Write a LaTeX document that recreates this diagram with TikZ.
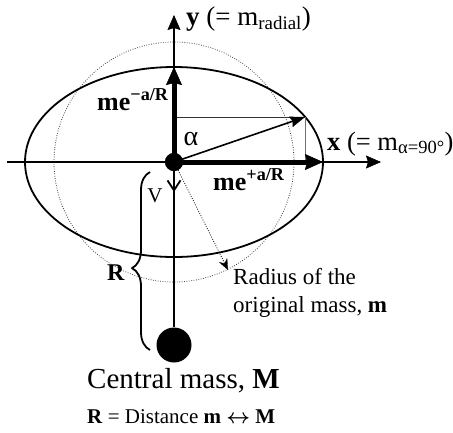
\documentclass[tikz,border=0pt]{standalone}
\usepackage{fontspec}
\setmainfont{Liberation Serif}
\usepackage{tikz}
\usetikzlibrary{arrows.meta,positioning,decorations.pathreplacing}

\begin{document}
\begin{tikzpicture}[x=1pt, y=-1pt, line join=round]
  % Styles for the orbit sketch
  \tikzstyle{massdot} = [circle, fill=black, inner sep=0pt]
  \tikzstyle{axis} = [line width=1.8pt, -{Stealth[length=15pt, width=13pt, inset=2pt, line width=0.5pt]}]
  \tikzstyle{bigvec} = [line width=5pt, -{Stealth[length=18pt, width=16pt, inset=2pt, line width=0.5pt]}]
  \tikzstyle{vec} = [line width=1.6pt, -{Stealth[length=15pt, width=11pt, inset=2pt, line width=0.5pt]}]
  \tikzstyle{lbl} = [inner sep=0pt, font=\fontsize{24}{29}\selectfont]
  \useasboundingbox (0,0) rectangle (453,432);

  % Orbit, original radius and the axes
  \draw[line width=0.8pt, black!75, dash pattern=on 0.8pt off 1.6pt] (174,162) circle (120);
  \draw[line width=1.8pt] (174,162) ellipse [x radius=149, y radius=95];
  \node[massdot, minimum size=18pt] (o) at (174,162) {};
  \node[massdot, minimum size=35pt] (M) at (174,345) {};
  \coordinate (xleft) at (7,162);
  \coordinate (xtip) at (381,162);
  \coordinate (ytip) at (174,15);
  \draw[axis] (xleft) -- (xtip);
  \draw[axis] (M) -- (ytip);

  % Components of the mass vector
  \coordinate (mv) at (305,117);
  \coordinate (mvy) at (174,117);
  \coordinate (mvx) at (305,162);
  \draw[line width=1pt, black!80] (mvy) -- (mv);
  \draw[line width=1pt, black!55] (mv) -- (mvx);
  \draw[vec] (o.center) -- (mv);
  \coordinate (ytop) at (174,67);
  \coordinate (xright) at (323,162);
  \draw[bigvec] (o.center) -- (ytop);
  \draw[bigvec] (o.center) -- (xright);
  \node[massdot, minimum size=18pt] at (o) {};

  % Velocity and radius pointer
  \coordinate (vtip) at (174,192);
  \draw[line width=1.8pt, -{Straight Barb[length=10pt, width=13pt]}] (o) -- (vtip);
  \coordinate (rtip) at (228,270);
  \draw[line width=0.8pt, dash pattern=on 0.8pt off 1.6pt, -{Stealth[length=11pt, width=9pt, line width=0.3pt]}] (o) -- (rtip);

  % Brace for the distance R
  \coordinate (bbot) at (150,350);
  \coordinate (btop) at (150,172);
  \draw[line width=1.8pt, decorate, decoration={brace, amplitude=18pt, aspect=0.46}] (bbot) -- (btop);

  % Labels
  \node[lbl, anchor=base west, font=\fontsize{27}{32}\selectfont] (ylab) at (186,25) {\textbf{y} (= m\textsubscript{radial})};
  \node[lbl, anchor=base west, font=\fontsize{26.5}{32}\selectfont] (xlab) at (327,150) {\textbf{x} (= m\textsubscript{α=90°})};
  \node[lbl, anchor=base west, font=\fontsize{26}{30}\bfseries] (mup) at (97,110) {me\textsuperscript{−a/R}};
  \node[lbl, anchor=base west, font=\fontsize{26}{30}\bfseries] (mright) at (213,190) {me\textsuperscript{+a/R}};
  \node[lbl, font=\fontsize{28}{32}\selectfont] (alpha) at (191,139) {α};
  \node[lbl, font=\fontsize{21}{25}\selectfont] (vlab) at (155,196) {V};
  \node[lbl, anchor=base west, font=\fontsize{24}{29}\bfseries] (rlab) at (107,280) {R};
  \node[lbl, anchor=base west, font=\fontsize{23}{28}\selectfont] (radA) at (233,284) {Radius of the};
  \node[lbl, anchor=base west, font=\fontsize{23}{28}\selectfont] (radB) at (233,312) {original mass, \textbf{m}};
  \node[lbl, anchor=base west, font=\fontsize{29}{34}\selectfont] (central) at (87,388) {Central mass, \textbf{M}};
  \node[lbl, anchor=base west, font=\fontsize{21}{25}\selectfont] (dist) at (87,423) {\textbf{R} = Distance \textbf{m} {\boldmath$\leftrightarrow$} \textbf{M}};
\end{tikzpicture}
\end{document}
